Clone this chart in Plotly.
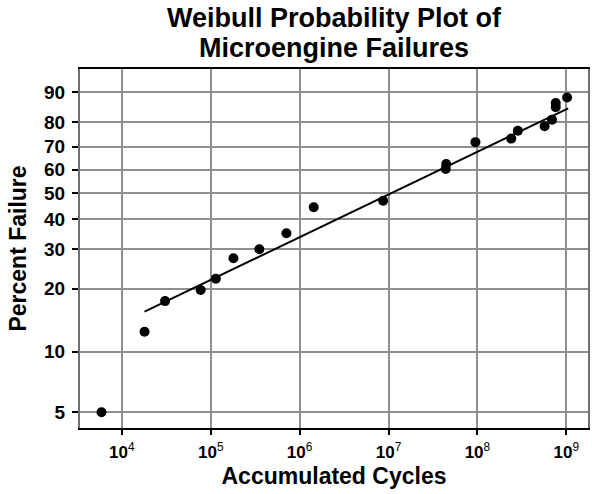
import numpy as np
import plotly.graph_objects as go

# ---- data ----
cycles = [5.9e3, 1.8e4, 3.06e4, 7.7e4, 1.14e5, 1.8e5, 3.52e5, 7.1e5, 1.44e6,
          8.7e6, 4.4e7, 4.45e7, 9.5e7, 2.4e8, 2.85e8, 5.7e8, 6.9e8, 7.6e8,
          7.6e8, 1.02e9]
percent = [5.0, 12.5, 17.5, 19.7, 22.2, 27.4, 30.0, 35.0, 44.4,
           47.0, 60.4, 62.5, 72.0, 73.5, 76.7, 78.5, 81.0, 85.5,
           86.8, 88.5]

fit_cycles = [1.8e4, 1.05e9]
fit_percent = [15.6, 85.1]

y_ticks = [5, 10, 20, 30, 40, 50, 60, 70, 80, 90]
x_ticks = [1e4, 1e5, 1e6, 1e7, 1e8, 1e9]
x_tick_text = ["<b>10</b><sup>4</sup>", "<b>10</b><sup>5</sup>", "<b>10</b><sup>6</sup>",
               "<b>10</b><sup>7</sup>", "<b>10</b><sup>8</sup>", "<b>10</b><sup>9</sup>"]

title_lines = ["Weibull Probability Plot of", "Microengine Failures"]


def weibull(p):
    p = np.asarray(p, dtype=float) / 100.0
    return np.log(-np.log(1.0 - p))


FONT = "Arial, Liberation Sans, sans-serif"

fig = go.Figure()
fig.add_trace(go.Scatter(x=fit_cycles, y=weibull(fit_percent), mode="lines",
                         line=dict(color="black", width=2), hoverinfo="skip"))
fig.add_trace(go.Scatter(x=cycles, y=weibull(percent), mode="markers",
                         marker=dict(color="black", size=10)))

fig.update_layout(
    width=592, height=494,
    margin=dict(l=80, r=2, t=69, b=66),
    paper_bgcolor="white", plot_bgcolor="white",
    showlegend=False,
    font=dict(family=FONT, color="black"),
)

# title as two centred lines (plot area spans paper y 0..1 = 359 px)
for line, ypix in zip(title_lines, [18, 48]):
    fig.add_annotation(text=f"<b>{line}</b>", xref="paper", yref="paper",
                       x=0.5, y=(428 - ypix) / 359.0, xanchor="center", yanchor="middle",
                       showarrow=False, font=dict(size=27, color="black", family=FONT))

fig.update_xaxes(
    type="log", range=[3.529, 9.244],
    tickvals=x_ticks, ticktext=x_tick_text,
    tickfont=dict(size=17, color="black", family=FONT),
    ticks="outside", ticklen=5, tickwidth=1.5, tickcolor="black",
    showgrid=True, gridcolor="#8f8f8f", gridwidth=2,
    showline=True, linecolor="black", linewidth=2, mirror=True,
    zeroline=False, ticklabelstandoff=3,
    title=dict(text="<b>Accumulated Cycles</b>", font=dict(size=23, color="black", family=FONT),
               standoff=6),
)

fig.update_yaxes(
    range=[-3.157, 1.111],
    tickvals=list(weibull(y_ticks)), ticktext=[f"<b>{v}</b>" for v in y_ticks],
    tickfont=dict(size=19, color="black", family=FONT),
    ticks="outside", ticklen=6, tickwidth=1.5, tickcolor="black",
    showgrid=True, gridcolor="#8f8f8f", gridwidth=2,
    showline=True, linecolor="#707070", linewidth=2, mirror=True,
    zeroline=False, ticklabelstandoff=3,
    title=dict(text="<b>Percent Failure</b>", font=dict(size=23, color="black", family=FONT),
               standoff=11),
)

fig.write_html("out.html")
